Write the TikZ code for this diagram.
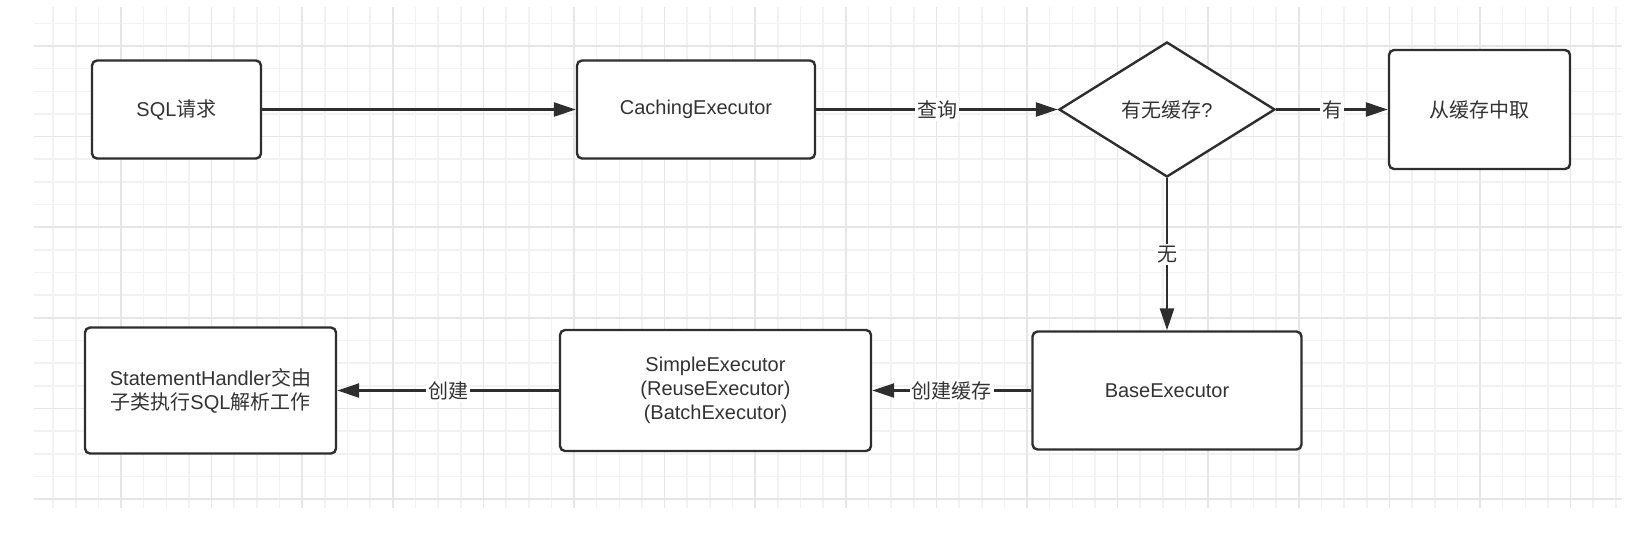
\documentclass[tikz,border=0pt]{standalone}
\usepackage{fontspec}
\setmainfont{Liberation Sans}
\newfontfamily\cjk{Noto Sans CJK SC}
\usepackage{tikz}
\usetikzlibrary{shapes.geometric, arrows.meta}
\definecolor{linecol}{HTML}{2E2E2E}
\definecolor{textcol}{HTML}{333333}
\definecolor{gridminor}{HTML}{F2F2F2}
\definecolor{gridmajor}{HTML}{E6E6E6}

\begin{document}
\begin{tikzpicture}[x=0.5pt, y=-0.5pt,
		every node/.style={font=\fontsize{10}{12}\selectfont, text=textcol},
		box/.style={draw=linecol, line width=1.2pt, rounded corners=2.5pt, fill=white, align=center, inner sep=0pt},
		decision/.style={draw=linecol, line width=1.2pt, diamond, aspect=1.6, fill=white, inner sep=0pt},
		conn/.style={draw=linecol, line width=1.2pt, -{Triangle[length=11pt, width=7pt]}},
		lbl/.style={fill=white, inner sep=1pt}]
					\def\top{109.5};
					\def\bot{390.5};

					\useasboundingbox (0,0) rectangle (1636,538);

					\begin{scope}
						\clip (34,7) rectangle (1622,508);
						\foreach \k in {0,...,69}
							\draw[gridminor, line width=0.8pt] ({53.05+22.65*\k},7) -- ({53.05+22.65*\k},508);
						\foreach \k in {0,...,21}
							\draw[gridminor, line width=0.8pt] (34,{23.35+22.65*\k}) -- (1622,{23.35+22.65*\k});
						\foreach \k in {0,...,16}
							\draw[gridmajor, line width=0.8pt] ({121+90.6*\k},7) -- ({121+90.6*\k},508);
						\foreach \k in {0,...,5}
							\draw[gridmajor, line width=0.8pt] (34,{46+90.6*\k}) -- (1622,{46+90.6*\k});
					\end{scope}

					\begin{scope}
						\node[box, minimum width=84.5pt, minimum height=49pt] (sql) at (176.5,\top) {SQL{\cjk 请求}};
						\node[box, minimum width=119pt, minimum height=49pt] (caching) at (696,\top) {CachingExecutor};
						\node[decision, minimum width=108pt, minimum height=67.5pt] (hascache) at (1167,\top) {{\cjk 有无缓存}?};
						\node[box, minimum width=90.5pt, minimum height=59.5pt] (fetch) at (1479.5,\top) {{\cjk 从缓存中取}};
					\end{scope}

					\begin{scope}
						\node[box, minimum width=134.5pt, minimum height=59pt] (base) at (1167,\bot) {BaseExecutor};
						\node[box, minimum width=155.5pt, minimum height=60.5pt] (simple) at (715.5,\bot) {SimpleExecutor\\(ReuseExecutor)\\(BatchExecutor)};
						\node[box, minimum width=125.5pt, minimum height=63pt] (handler) at (210.5,\bot) {StatementHandler{\cjk 交由}\\{\cjk 子类执行}SQL{\cjk 解析工作}};
					\end{scope}

					\begin{scope}
						\draw[conn] (sql) -- (caching);
						\draw[conn] (caching) -- node[lbl] {{\cjk 查询}} (hascache);
						\draw[conn] (hascache) -- node[lbl] {{\cjk 有}} (fetch);
						\draw[conn] (hascache) -- node[lbl] {{\cjk 无}} (base);
						\draw[conn] (base) -- node[lbl] {{\cjk 创建缓存}} (simple);
						\draw[conn] (simple) -- node[lbl] {{\cjk 创建}} (handler);
					\end{scope}
				\end{tikzpicture}
\end{document}
